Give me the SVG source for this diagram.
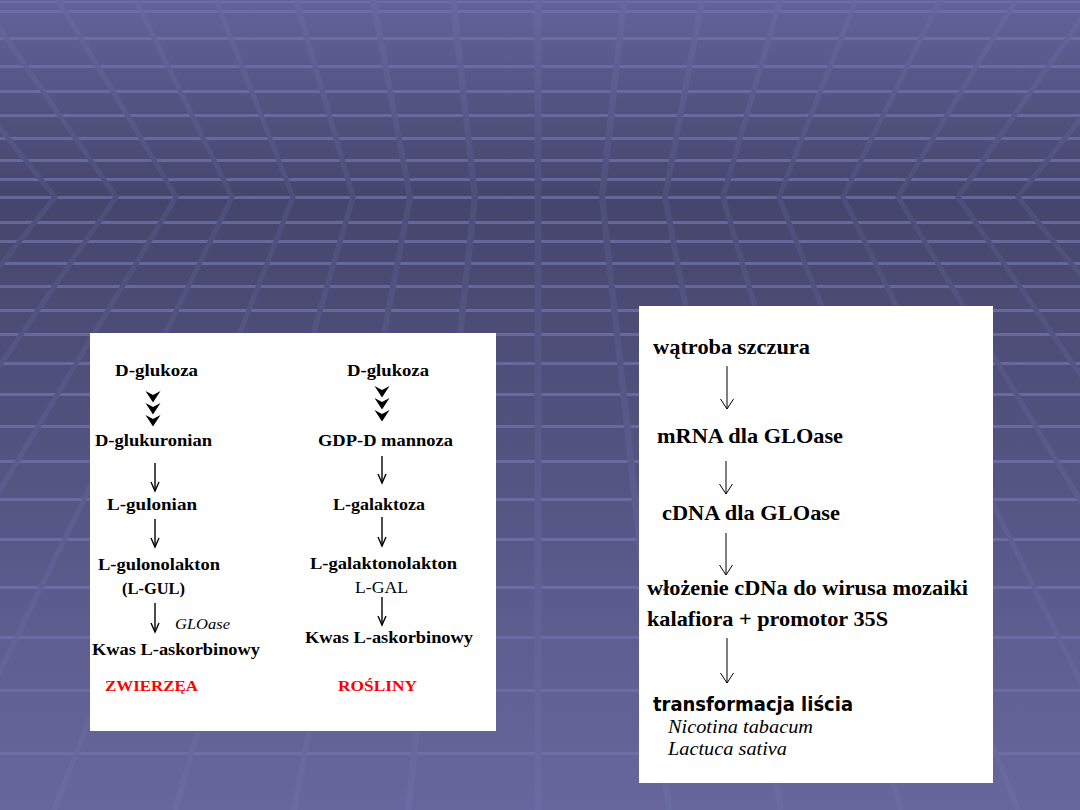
<svg xmlns="http://www.w3.org/2000/svg" width="1080" height="810" viewBox="0 0 1080 810">
<defs>
<linearGradient id="bg" x1="0" y1="0" x2="0" y2="810" gradientUnits="userSpaceOnUse">
<stop offset="0" stop-color="#63639b"/>
<stop offset="0.243" stop-color="#45456c"/>
<stop offset="1" stop-color="#67679e"/>
</linearGradient>
<linearGradient id="ln" x1="0" y1="0" x2="0" y2="810" gradientUnits="userSpaceOnUse">
<stop offset="0" stop-color="#6868a0"/>
<stop offset="0.243" stop-color="#4e4e7a"/>
<stop offset="1" stop-color="#6b6ba3"/>
</linearGradient>
<marker id="ahL" markerUnits="userSpaceOnUse" markerWidth="20" markerHeight="20" refX="0" refY="0" orient="auto" overflow="visible">
<path d="M-9,-4 L0,0 L-9,4" fill="none" stroke="#000" stroke-width="1.4"/>
</marker>
<marker id="ahR" markerUnits="userSpaceOnUse" markerWidth="20" markerHeight="20" refX="0" refY="0" orient="auto" overflow="visible">
<path d="M-10,-6.5 L0,0 L-10,6.5" fill="none" stroke="#000" stroke-width="1"/>
</marker>
<polygon id="chev" points="-7.5,0 0,4 7.5,0 0,11.5" fill="#000"/>
</defs>
<style>
.stripe{fill:#7071aa;opacity:0.75}
.gl{fill:none;stroke:url(#ln);stroke-width:5}
.b{font-family:"Liberation Serif","Times New Roman",serif;font-weight:bold;fill:#000}
.r{font-family:"Liberation Serif","Times New Roman",serif;fill:#000}
.i{font-family:"Liberation Serif","Times New Roman",serif;font-style:italic;fill:#000}
.s{font-family:"DejaVu Sans","Verdana",sans-serif;font-weight:bold;fill:#000}
.red{fill:#ff0000}
.arL{stroke:#000;stroke-width:1.4;marker-end:url(#ahL)}
.arR{stroke:#000;stroke-width:1;marker-end:url(#ahR)}
</style>

<g id="background">
<rect x="0" y="0" width="1080" height="810" fill="url(#bg)"/>
<g id="stripes">
<rect class="stripe" x="0" y="1" width="1080" height="2"/>
<rect class="stripe" x="0" y="10" width="1080" height="3"/>
<rect class="stripe" x="0" y="37" width="1080" height="3"/>
<rect class="stripe" x="0" y="65" width="1080" height="3"/>
<rect class="stripe" x="0" y="90" width="1080" height="3"/>
<rect class="stripe" x="0" y="114" width="1080" height="3"/>
<rect class="stripe" x="0" y="137" width="1080" height="3"/>
<rect class="stripe" x="0" y="159" width="1080" height="3"/>
<rect class="stripe" x="0" y="178" width="1080" height="3"/>
<rect class="stripe" x="0" y="196" width="1080" height="3"/>
<rect class="stripe" x="0" y="221" width="1080" height="3"/>
<rect class="stripe" x="0" y="240" width="1080" height="3"/>
<rect class="stripe" x="0" y="262" width="1080" height="3"/>
<rect class="stripe" x="0" y="285" width="1080" height="3"/>
<rect class="stripe" x="0" y="309" width="1080" height="3"/>
<rect class="stripe" x="0" y="333" width="1080" height="3"/>
<rect class="stripe" x="0" y="362" width="1080" height="3"/>
<rect class="stripe" x="0" y="393" width="1080" height="3"/>
<rect class="stripe" x="0" y="425" width="1080" height="3"/>
<rect class="stripe" x="0" y="460" width="1080" height="3"/>
<rect class="stripe" x="0" y="498" width="1080" height="3"/>
<rect class="stripe" x="0" y="538" width="1080" height="3"/>
<rect class="stripe" x="0" y="586" width="1080" height="3"/>
<rect class="stripe" x="0" y="636" width="1080" height="3"/>
<rect class="stripe" x="0" y="689" width="1080" height="3"/>
<rect class="stripe" x="0" y="752" width="1080" height="3"/>
</g>
<g id="perspective">
<polyline class="gl" points="-102.6,0 55,197 -435,810"/>
<polyline class="gl" points="-20,0 116,197 -307,810"/>
<polyline class="gl" points="58,0 176,197 -192,810"/>
<polyline class="gl" points="135.5,0 232,197 -68,810"/>
<polyline class="gl" points="216,0 293,197 54,810"/>
<polyline class="gl" points="296,0 353,197 175,810" style="stroke-width:5.5"/>
<polyline class="gl" points="373,0 410,197 294,810" style="stroke-width:6"/>
<polyline class="gl" points="453,0 475,197 408,810" style="stroke-width:6.5"/>
<polyline class="gl" points="538,0 538,197 538,810" style="stroke-width:7"/>
<polyline class="gl" points="624,0 602,197 669,810" style="stroke-width:6.5"/>
<polyline class="gl" points="702,0 665,197 781,810" style="stroke-width:6"/>
<polyline class="gl" points="780,0 723,197 901,810" style="stroke-width:5.5"/>
<polyline class="gl" points="856,0 779,197 1018,810"/>
<polyline class="gl" points="940,0 843,197 1143,810"/>
<polyline class="gl" points="1016,0 898,197 1266,810"/>
<polyline class="gl" points="1094,0 958,197 1381,810"/>
<polyline class="gl" points="1176,0 1018,197 1508,810"/>
</g>
</g>

<g id="panel-left">
<rect x="90" y="333" width="406" height="398" fill="#ffffff"/>
</g>
<g id="panel-right">
<rect x="639" y="306" width="354" height="477" fill="#ffffff"/>
</g>

<g id="connectors">
<use href="#chev" x="153" y="391"/>
<use href="#chev" x="153" y="403"/>
<use href="#chev" x="153" y="415"/>
<use href="#chev" x="382" y="386"/>
<use href="#chev" x="382" y="398"/>
<use href="#chev" x="382" y="410"/>
<line class="arL" x1="155" y1="463" x2="155" y2="491"/>
<line class="arL" x1="155" y1="519" x2="155" y2="547"/>
<line class="arL" x1="155" y1="603" x2="155" y2="632"/>
<line class="arL" x1="382" y1="456" x2="382" y2="483"/>
<line class="arL" x1="382" y1="517" x2="382" y2="546"/>
<line class="arL" x1="382" y1="597" x2="382" y2="625"/>
<line class="arR" x1="727" y1="366" x2="727" y2="409"/>
<line class="arR" x1="726" y1="461" x2="726" y2="494"/>
<line class="arR" x1="726" y1="533" x2="726" y2="575"/>
<line class="arR" x1="727" y1="638" x2="727" y2="683"/>
</g>

<g id="node-d-glukoza-z"><text class="b" x="115" y="376" font-size="17" textLength="83" lengthAdjust="spacingAndGlyphs">D-glukoza</text></g>
<g id="node-d-glukuronian"><text class="b" x="95" y="446" font-size="17" textLength="117" lengthAdjust="spacingAndGlyphs">D-glukuronian</text></g>
<g id="node-l-gulonian"><text class="b" x="107" y="510" font-size="17" textLength="90" lengthAdjust="spacingAndGlyphs">L-gulonian</text></g>
<g id="node-l-gulonolakton"><text class="b" x="98" y="570" font-size="17" textLength="122" lengthAdjust="spacingAndGlyphs">L-gulonolakton</text>
<text class="b" x="122" y="594" font-size="17" textLength="63" lengthAdjust="spacingAndGlyphs">(L-GUL)</text></g>
<g id="label-gloase"><text class="i" x="175" y="629" font-size="15" textLength="55" lengthAdjust="spacingAndGlyphs">GLOase</text></g>
<g id="node-kwas-z"><text class="b" x="92" y="655" font-size="17" textLength="168" lengthAdjust="spacingAndGlyphs">Kwas L-askorbinowy</text></g>
<g id="label-zwierzea"><text class="b red" x="105" y="691" font-size="15.5" textLength="93" lengthAdjust="spacingAndGlyphs">ZWIERZĘA</text></g>

<g id="node-d-glukoza-r"><text class="b" x="347" y="376" font-size="17" textLength="82" lengthAdjust="spacingAndGlyphs">D-glukoza</text></g>
<g id="node-gdp"><text class="b" x="318" y="446" font-size="17" textLength="135" lengthAdjust="spacingAndGlyphs">GDP-D mannoza</text></g>
<g id="node-l-galaktoza"><text class="b" x="333" y="510" font-size="17" textLength="92" lengthAdjust="spacingAndGlyphs">L-galaktoza</text></g>
<g id="node-l-galaktonolakton"><text class="b" x="310" y="569" font-size="17" textLength="147" lengthAdjust="spacingAndGlyphs">L-galaktonolakton</text>
<text class="r" x="355" y="593" font-size="17" textLength="53" lengthAdjust="spacingAndGlyphs">L-GAL</text></g>
<g id="node-kwas-r"><text class="b" x="305" y="643" font-size="17" textLength="168" lengthAdjust="spacingAndGlyphs">Kwas L-askorbinowy</text></g>
<g id="label-rosliny"><text class="b red" x="338" y="691" font-size="15.5" textLength="79" lengthAdjust="spacingAndGlyphs">ROŚLINY</text></g>

<g id="node-watroba"><text class="b" x="653" y="354" font-size="21" textLength="157" lengthAdjust="spacingAndGlyphs">wątroba szczura</text></g>
<g id="node-mrna"><text class="b" x="657" y="443" font-size="21" textLength="186" lengthAdjust="spacingAndGlyphs">mRNA dla GLOase</text></g>
<g id="node-cdna"><text class="b" x="662" y="520" font-size="21" textLength="178" lengthAdjust="spacingAndGlyphs">cDNA dla GLOase</text></g>
<g id="node-wlozenie"><text class="b" x="647" y="595" font-size="21" textLength="321" lengthAdjust="spacingAndGlyphs">włożenie cDNa do wirusa mozaiki</text>
<text class="b" x="647" y="626" font-size="21" textLength="241" lengthAdjust="spacingAndGlyphs">kalafiora + promotor 35S</text></g>
<g id="node-transformacja"><text class="s" x="653" y="711" font-size="19" textLength="200" lengthAdjust="spacingAndGlyphs">transformacja liścia</text>
<text class="i" x="668" y="733" font-size="18" textLength="145" lengthAdjust="spacingAndGlyphs">Nicotina tabacum</text>
<text class="i" x="668" y="755" font-size="18" textLength="119" lengthAdjust="spacingAndGlyphs">Lactuca sativa</text></g>
</svg>
